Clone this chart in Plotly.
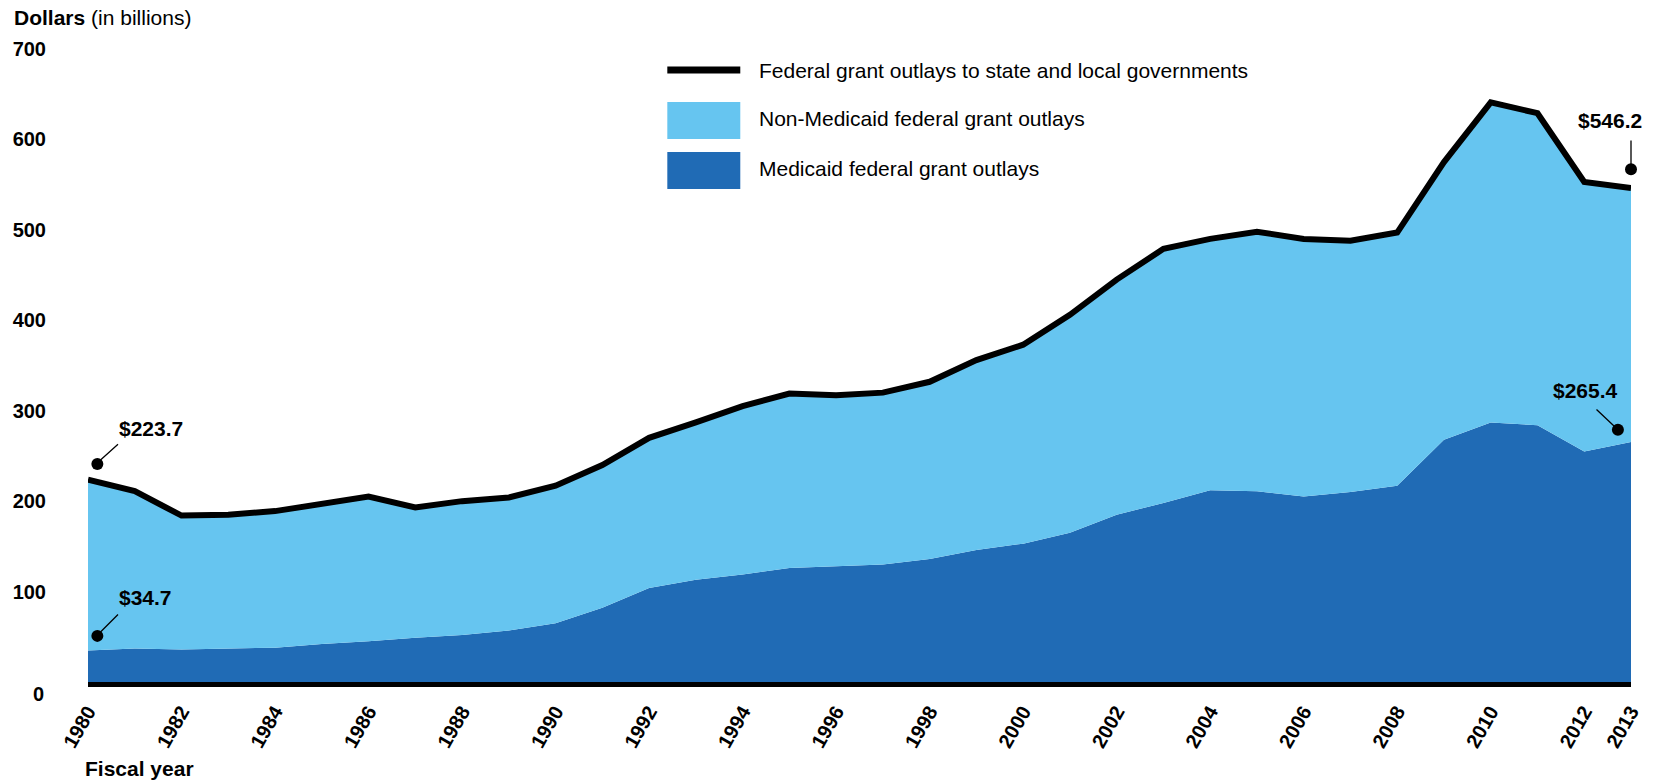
import plotly.graph_objects as go

years = list(range(1980, 2014))
total = [223.7, 211, 184, 185, 189, 197, 205, 193, 200, 204, 217, 240, 270, 287, 305, 319, 317,
         320, 332, 356, 373, 406, 445, 479, 490, 498, 490, 488, 497, 575, 641, 629, 553, 546.2]
medicaid = [34.7, 37, 36, 37, 38, 42, 45, 49, 52, 57, 65, 82, 104, 113, 119, 126, 128,
            130, 136, 146, 153, 165, 185, 198, 212, 211, 205, 210, 217, 268, 287, 284, 255, 265.4]
tick_years = list(range(1980, 2013, 2)) + [2013]
y_ticks = [100, 200, 300, 400, 500, 600, 700]

LIGHT = "#66C5F0"
DARK = "#206BB5"
FONT = "Liberation Sans, Arial, sans-serif"

W, H = 1654, 781
L, R, T, B = 87.5, 23, 49, 99
pw, ph = W - L - R, H - T - B

def px(x):
    return (x - L) / pw

def py(y):
    return (H - B - y) / ph

fig = go.Figure()
fig.add_trace(go.Scatter(x=years, y=medicaid, mode="lines", line=dict(width=0, color=DARK),
                         fill="tozeroy", fillcolor=DARK, hoverinfo="skip", showlegend=False))
fig.add_trace(go.Scatter(x=years, y=total, mode="lines", line=dict(width=0, color=LIGHT),
                         fill="tonexty", fillcolor=LIGHT, hoverinfo="skip", showlegend=False))
fig.add_trace(go.Scatter(x=years, y=total, mode="lines", line=dict(width=6, color="black"),
                         showlegend=False, cliponaxis=False, hoverinfo="skip"))

# callout dots
dot_x = [1980.2, 1980.2, 2013, 2012.72]
dot_y = [241, 51, 567, 279]
fig.add_trace(go.Scatter(x=dot_x, y=dot_y, mode="markers", marker=dict(size=12, color="black"),
                         showlegend=False, cliponaxis=False, hoverinfo="skip"))

ann = []
def label(text, x, y, xanchor="left", size=21):
    ann.append(dict(text=text, x=px(x), y=py(y), xref="paper", yref="paper", showarrow=False,
                    xanchor=xanchor, yanchor="middle", font=dict(size=size, color="black", family=FONT)))

def leader(x0, y0, x1, y1):
    ann.append(dict(text="", x=px(x1), y=py(y1), xref="paper", yref="paper", showarrow=True,
                    ax=x0 - x1, ay=y0 - y1, axref="pixel", ayref="pixel",
                    arrowhead=0, arrowwidth=1.3, arrowcolor="black"))

label("<b>$223.7</b>", 117, 428)
leader(119, 443, 100, 460)
label("<b>$34.7</b>", 117, 597)
leader(119, 613, 100, 632)
label("<b>$546.2</b>", 1644, 120, "right")
leader(1631, 139, 1631, 165)
label("<b>$265.4</b>", 1620, 390, "right")
leader(1595, 408, 1614, 426)

label("<b>Dollars</b> (in billions)", 11, 17)
label("<b>Fiscal year</b>", 82, 768)
label("<b>0</b>", 45, 694, "right", 20)

# legend
shapes = [
    dict(type="line", xref="paper", yref="paper", x0=px(667), x1=px(740), y0=py(70), y1=py(70),
         line=dict(color="black", width=7)),
    dict(type="rect", xref="paper", yref="paper", x0=px(667), x1=px(740), y0=py(102), y1=py(139),
         fillcolor=LIGHT, line=dict(width=0)),
    dict(type="rect", xref="paper", yref="paper", x0=px(667), x1=px(740), y0=py(152), y1=py(189),
         fillcolor=DARK, line=dict(width=0)),
]
for txt, yy in [("Federal grant outlays to state and local governments", 70),
                ("Non-Medicaid federal grant outlays", 119),
                ("Medicaid federal grant outlays", 169)]:
    label(txt, 757, yy)

fig.update_layout(
    width=W, height=H,
    margin=dict(l=L, r=R, t=T, b=B),
    paper_bgcolor="white", plot_bgcolor="white",
    font=dict(family=FONT, color="black"),
    showlegend=False,
    hovermode=False,
    annotations=ann,
    shapes=shapes,
    xaxis=dict(range=[1980, 2013], tickvals=tick_years, ticktext=[str(v) for v in tick_years],
               tickangle=-60, tickfont=dict(size=20, weight="bold", family=FONT),
               showgrid=False, zeroline=False, showline=True, linecolor="black", linewidth=5,
               ticks="", ticklabelstandoff=5, fixedrange=True),
    yaxis=dict(range=[0, 700], tickvals=y_ticks, tickfont=dict(size=20, weight="bold", family=FONT),
               showgrid=False, zeroline=False, showline=False, ticks="", ticklabelstandoff=41,
               fixedrange=True),
)

fig.write_html("out.html", config={"displayModeBar": False},
               post_script="document.body.style.margin='0px';document.body.style.overflow='hidden';")
